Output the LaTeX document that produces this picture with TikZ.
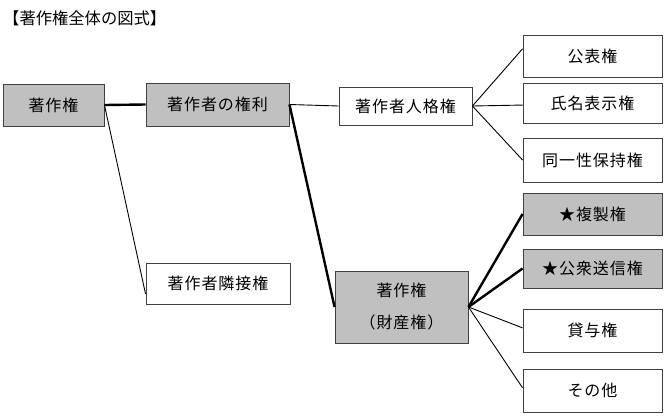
\documentclass[tikz,border=0pt]{standalone}
\usepackage{fontspec}
\setmainfont{Noto Sans CJK JP}
\newfontfamily\boxfont[LetterSpace=6]{Noto Sans CJK JP}
\usetikzlibrary{calc}
\definecolor{boxgray}{HTML}{C0C0C0}
\definecolor{edgegray}{HTML}{404040}
\tikzset{
  base/.style={draw=edgegray, line width=0.9pt, rectangle, inner sep=0pt,
    font=\boxfont\fontsize{16}{32}\selectfont, align=center},
  graybox/.style={base, fill=boxgray},
  whitebox/.style={base, fill=white},
  thin/.style={line width=0.9pt, black},
  thick/.style={line width=2.4pt, black},
}
\begin{document}
\begin{tikzpicture}[x=1pt,y=-1pt]
\useasboundingbox (0,0) rectangle (671,418);
\node[anchor=west, font=\fontsize{16.3}{18}\selectfont, inner sep=0pt] (title) at (3,18) {【著作権全体の図式】};

\node[graybox, minimum width=101, minimum height=42] (A) at (53.5,105) {著作権};
\node[graybox, minimum width=143, minimum height=43] (B) at (217.5,104.5) {著作者の権利};
\node[whitebox, minimum width=133, minimum height=38] (C) at (405.5,106) {著作者人格権};
\node[whitebox, minimum width=144, minimum height=41] (D) at (218,283.5) {著作者隣接権};
\node[graybox, minimum width=133, minimum height=72] (E) at (401.5,307) {著作権\\（財産権）};

\node[whitebox, minimum width=139, minimum height=42] (R1) at (592.5,56.5) {公表権};
\node[whitebox, minimum width=139, minimum height=40] (R2) at (592.5,103) {氏名表示権};
\node[whitebox, minimum width=139, minimum height=44] (R3) at (592.5,160) {同一性保持権};
\node[graybox, minimum width=139, minimum height=42] (R4) at (592.5,214) {★複製権};
\node[graybox, minimum width=139, minimum height=39] (R5) at (592.5,268.5) {★公衆送信権};
\node[whitebox, minimum width=139, minimum height=43] (R6) at (592.5,330.5) {貸与権};
\node[whitebox, minimum width=139, minimum height=43] (R7) at (592.5,390.5) {その他};

\draw[thick] (A.east) -- (B.west);
\draw[thin] (A.east) -- ($(D.south west)!0.25!(D.north west)$);
\draw[thin] (B.east) -- (C.west);
\draw[thick] (B.east) -- (E.west);

\draw[thin] (C.east) -- ($(R1.north west)!0.32!(R1.south west)$);
\draw[thin] (C.east) -- ($(R2.north west)!0.55!(R2.south west)$);
\draw[thin] (C.east) -- (R3.west);

\draw[thick] (E.east) -- (R4.west);
\draw[thick] (E.east) -- (R5.west);
\draw[thin] (E.east) -- ($(R6.north west)!0.44!(R6.south west)$);
\draw[thin] (E.east) -- ($(R7.north west)!0.44!(R7.south west)$);
\end{tikzpicture}
\end{document}
